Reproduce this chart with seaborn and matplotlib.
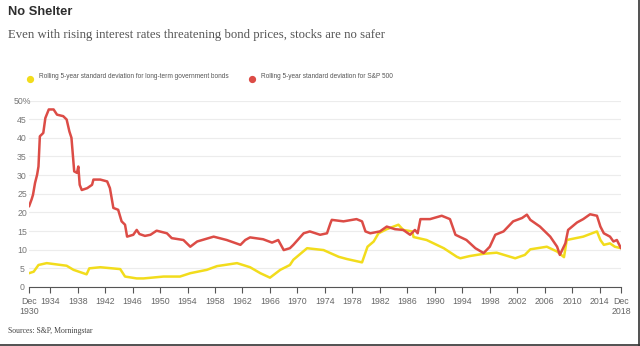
import matplotlib
matplotlib.use("Agg")
import matplotlib.pyplot as plt
import seaborn as sns
import pandas as pd
from matplotlib.lines import Line2D

# ---------------- data ----------------
sp_years = [1930.92, 1931.3, 1931.5, 1931.8, 1932.1, 1932.3, 1932.5, 1933.0, 1933.3, 1933.8,
            1934.5, 1935.0, 1935.9, 1936.4, 1936.8, 1937.1, 1937.5, 1937.9, 1938.1, 1938.3,
            1938.6, 1939.4, 1940.1, 1940.3, 1941.3, 1942.3, 1942.7, 1943.2, 1943.9, 1944.4,
            1944.9, 1945.2, 1946.1, 1946.6, 1947.0, 1947.8, 1948.6, 1949.5, 1951.0, 1951.7,
            1953.4, 1954.4, 1955.4, 1957.8, 1959.7, 1961.7, 1962.4, 1963.1, 1965.0, 1966.3,
            1967.2, 1968.0, 1968.9, 1969.4, 1970.9, 1971.8, 1973.3, 1974.3, 1974.8, 1975.0,
            1976.7, 1978.6, 1979.4, 1979.9, 1980.6, 1982.0, 1983.0, 1984.2, 1985.4, 1986.4,
            1987.1, 1987.5, 1987.9, 1989.3, 1991.0, 1992.2, 1993.0, 1994.6, 1995.9, 1997.1,
            1998.0, 1998.8, 2000.0, 2001.4, 2002.7, 2003.4, 2003.9, 2005.3, 2006.8, 2007.8,
            2008.2, 2009.0, 2009.4, 2010.7, 2011.6, 2012.6, 2013.6, 2014.1, 2014.6, 2015.5,
            2016.0, 2016.5, 2017.1]
sp_values = [21.6, 23.5, 24.7, 27.9, 30.1, 32.3, 40.4, 41.3, 45.3, 47.6,
             47.6, 46.2, 45.8, 44.9, 41.7, 40.0, 31.0, 30.6, 32.3, 27.4,
             26.0, 26.5, 27.4, 28.8, 28.8, 28.3, 26.5, 21.2, 20.7, 17.6,
             16.7, 13.5, 14.0, 15.3, 14.2, 13.7, 14.0, 15.1, 14.4, 13.1,
             12.6, 10.8, 12.2, 13.5, 12.6, 11.3, 12.6, 13.3, 12.8, 11.9,
             12.6, 9.9, 10.4, 11.3, 14.4, 14.9, 14.0, 14.4, 17.1, 18.0,
             17.6, 18.2, 17.6, 14.9, 14.4, 14.9, 16.2, 15.5, 15.3, 14.0,
             15.3, 14.4, 18.2, 18.2, 19.1, 18.2, 14.0, 12.6, 10.4, 9.1,
             10.8, 14.0, 14.9, 17.6, 18.5, 19.4, 18.0, 16.2, 13.5, 10.8,
             8.6, 11.7, 15.3, 17.3, 18.2, 19.5, 19.1, 16.2, 14.4, 13.5,
             12.2, 12.6, 10.4]

bond_years = [1930.92, 1931.6, 1932.3, 1933.5, 1936.4, 1937.4, 1939.3, 1939.7, 1941.3, 1944.2,
              1944.9, 1946.6, 1947.6, 1950.5, 1952.9, 1954.4, 1956.8, 1958.3, 1961.2, 1963.1,
              1964.6, 1966.0, 1967.5, 1968.9, 1969.4, 1971.4, 1973.8, 1976.0, 1977.2, 1979.4,
              1980.2, 1981.1, 1981.8, 1983.0, 1984.7, 1985.4, 1986.7, 1986.9, 1988.8, 1991.3,
              1993.2, 1993.7, 1995.1, 1997.1, 1999.0, 2001.7, 2003.1, 2003.9, 2006.3, 2007.8,
              2008.8, 2009.2, 2011.6, 2013.6, 2014.1, 2014.6, 2015.5, 2016.2, 2017.1]
bond_values = [3.7, 4.1, 5.9, 6.4, 5.7, 4.6, 3.4, 5.0, 5.3, 4.8,
               2.8, 2.3, 2.3, 2.8, 2.8, 3.7, 4.6, 5.6, 6.4, 5.3,
               3.7, 2.5, 4.6, 5.9, 7.3, 10.4, 9.9, 8.1, 7.5, 6.6,
               10.8, 12.2, 14.4, 15.5, 16.7, 15.3, 14.9, 13.4, 12.6, 10.4,
               8.1, 7.7, 8.3, 8.9, 9.2, 7.7, 8.6, 10.1, 10.8, 9.5,
               8.0, 12.6, 13.5, 14.9, 12.6, 11.3, 11.7, 10.8, 10.4]

series_names = ["Rolling 5-year standard deviation for long-term government bonds",
                "Rolling 5-year standard deviation for S&P 500"]
series_colors = ["#f2dc1c", "#dc4c46"]

tick_positions = [1930.92] + list(range(1934, 2015, 4)) + [2017.1]
tick_labels = ["Dec\n1930"] + [str(y) for y in range(1934, 2015, 4)] + ["Dec\n2018"]
y_ticks = [0, 5, 10, 15, 20, 25, 30, 35, 40, 45, 50]
y_labels = [str(v) for v in y_ticks[:-1]] + ["50%"]

df = pd.concat([
    pd.DataFrame({"year": bond_years, "value": bond_values, "series": series_names[0]}),
    pd.DataFrame({"year": sp_years, "value": sp_values, "series": series_names[1]}),
], ignore_index=True)

# ---------------- figure ----------------
sns.set_style("white")
plt.rcParams["font.family"] = ["Liberation Sans", "DejaVu Sans"]

W, H = 640, 346
fig = plt.figure(figsize=(W / 100, H / 100), dpi=100)
ax_left, ax_right, ax_bottom, ax_top = 29, 621, 287, 100.5
ax = fig.add_axes([ax_left / W, 1 - ax_bottom / H, (ax_right - ax_left) / W, (ax_bottom - ax_top) / H])

sns.lineplot(data=df, x="year", y="value", hue="series", hue_order=series_names,
             palette=series_colors, linewidth=1.8, ax=ax, legend=False, sort=False)

ax.set_xlim(tick_positions[0], tick_positions[-1])
ax.set_ylim(0, 50)
ax.set_xlabel("")
ax.set_ylabel("")
ax.set_yticks(y_ticks)
ax.set_yticklabels(y_labels)
ax.set_xticks(tick_positions)
ax.set_xticklabels(tick_labels)

ax.grid(axis="y", color="#ececec", linewidth=0.8)
ax.grid(axis="x", visible=False)
ax.set_axisbelow(True)
for s in ["top", "right", "left"]:
    ax.spines[s].set_visible(False)
ax.spines["bottom"].set_color("#555555")
ax.spines["bottom"].set_linewidth(0.8)
ax.tick_params(axis="x", direction="out", length=4, width=0.8, color="#555555",
               labelsize=6.3, labelcolor="#666666", pad=3, bottom=True)
ax.tick_params(axis="y", length=0, labelsize=6.3, labelcolor="#777777", pad=5)
for lab in ax.get_yticklabels():
    lab.set_horizontalalignment("center")
for lab in ax.get_xticklabels():
    lab.set_linespacing(1.25)
    lab.set_verticalalignment("top")

# ---------------- texts ----------------
fig.text(8 / W, 1 - 12 / H, "No Shelter", fontsize=9.3, fontweight="bold",
         color="#2e2e2e", va="center", ha="left")
fig.text(8 / W, 1 - 35 / H,
         "Even with rising interest rates threatening bond prices, stocks are no safer",
         fontsize=9.2, color="#555555", va="center", ha="left",
         family=["Liberation Serif", "DejaVu Serif"])

legend_items = [(30, series_names[0], series_colors[0]), (252, series_names[1], series_colors[1])]
for x_px, name, col in legend_items:
    fig.add_artist(Line2D([x_px / W], [1 - 78.5 / H], marker="o", markersize=4.2,
                          color=col, linestyle="none", transform=fig.transFigure))
    fig.text((x_px + 9) / W, 1 - 76.5 / H, name, fontsize=4.7, color="#555555",
             va="center", ha="left")

fig.text(8 / W, 1 - 331 / H, "Sources: S&P, Morningstar", fontsize=5.6,
         color="#444444", va="center", ha="left",
         family=["Liberation Serif", "DejaVu Serif"])

# screenshot frame (right and bottom edges)
fig.add_artist(Line2D([638.5 / W, 638.5 / W], [0, 1], color="#333333", linewidth=1.2,
                      transform=fig.transFigure))
fig.add_artist(Line2D([0, 1], [0.6 / H, 0.6 / H], color="#333333", linewidth=1.2,
                      transform=fig.transFigure))

fig.savefig("out.png", dpi=100)
